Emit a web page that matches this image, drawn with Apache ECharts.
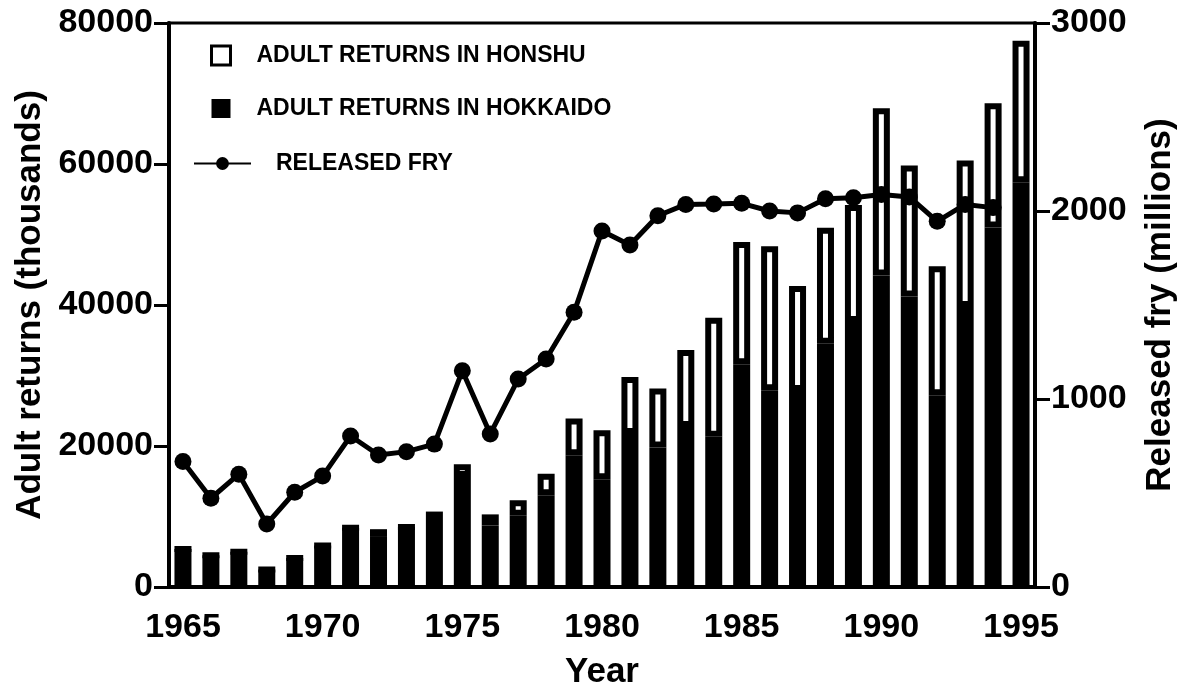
<!DOCTYPE html>
<html>
<head>
<meta charset="utf-8">
<script src="https://cdn.jsdelivr.net/npm/echarts@6/dist/echarts.min.js"></script>
<style>
  html, body { margin: 0; padding: 0; background: #fff; }
  #main { width: 1184px; height: 686px; }
</style>
</head>
<body>
<div id="main"></div>
<script>
// years on the x axis
const years = [];
for (let y = 1965; y <= 1995; y++) years.push(String(y));

// adult returns, thousands of fish
const hokkaido = [5400, 4500, 5000, 2500, 4100, 5900, 8400, 7100, 8500, 9500,
  15600, 8700, 10100, 13000, 18700, 15300, 21700, 19800, 22700, 21300,
  31600, 27900, 27800, 34500, 37600, 44200, 41200, 27200, 39700, 51000, 57400];
const honshu = [0, 0, 0, 0, 0, 0, 0, 1100, 0, 1200,
  1800, 1600, 2200, 3050, 5200, 6950, 8100, 8350, 10900, 16900,
  17350, 20450, 14900, 16450, 16600, 23700, 18600, 18300, 20800, 17600, 20100];

// released fry, millions (no point for 1995)
const fry = [667, 472, 600, 335, 504, 590, 803, 702, 720, 760,
  1150, 814, 1106, 1213, 1461, 1894, 1819, 1975, 2035, 2037,
  2041, 2000, 1990, 2065, 2070, 2088, 2075, 1945, 2035, 2018, null];

const leftTicks = [0, 20000, 40000, 60000, 80000];
const rightTicks = [0, 1000, 2000, 3000];

const FONT = 'Liberation Sans, Arial, sans-serif';
const black = '#000';

const chart = echarts.init(document.getElementById('main'));

const nameStyle = { fontSize: 35, fontWeight: 'bold', color: black, fontFamily: FONT };
const tickFont = { fontSize: 34, fontWeight: 'bold', color: black, fontFamily: FONT };
const legendText = { fontSize: 23, fontWeight: 'bold', color: black, fontFamily: FONT };

const option = {
  backgroundColor: '#fff',
  animation: false,
  textStyle: { fontFamily: FONT, color: black },
  grid: {
    left: 169, right: 149, top: 23, bottom: 99,
    outerBoundsMode: 'none',
    show: true, borderColor: black, borderWidth: 3
  },
  legend: [{
    orient: 'vertical',
    left: 205, top: 39,
    itemWidth: 19, itemHeight: 19, itemGap: 30,
    icon: 'rect',
    textStyle: Object.assign({ padding: [0, 0, 0, 21] }, legendText),
    data: [
      { name: 'ADULT RETURNS IN HONSHU', itemStyle: { color: '#fff', borderColor: black, borderWidth: 3 } },
      { name: 'ADULT RETURNS IN HOKKAIDO', itemStyle: { color: black, borderWidth: 0 } }
    ]
  }, {
    orient: 'vertical',
    left: 188, top: 147,
    itemWidth: 57, itemHeight: 16,
    textStyle: Object.assign({ padding: [0, 0, 0, 20] }, legendText),
    data: ['RELEASED FRY']
  }],
  xAxis: {
    type: 'category',
    data: years,
    boundaryGap: true,
    name: 'Year',
    nameLocation: 'middle',
    nameGap: 68,
    nameTextStyle: nameStyle,
    axisLine: { lineStyle: { color: black, width: 4 } },
    axisTick: { interval: 4, alignWithLabel: true, length: 13, lineStyle: { color: black, width: 3 } },
    axisLabel: Object.assign({ interval: 4, margin: 24 }, tickFont)
  },
  yAxis: [{
    type: 'value',
    min: leftTicks[0], max: leftTicks[leftTicks.length - 1], interval: 20000,
    name: 'Adult returns (thousands)',
    nameLocation: 'middle',
    nameRotate: 90,
    nameGap: 120,
    nameTextStyle: nameStyle,
    axisLine: { show: true, lineStyle: { color: black, width: 4 } },
    axisTick: { show: true, length: 15, lineStyle: { color: black, width: 3 } },
    axisLabel: Object.assign({ margin: 16, formatter: v => String(v) }, tickFont),
    splitLine: { show: false }
  }, {
    type: 'value',
    position: 'right',
    min: rightTicks[0], max: rightTicks[rightTicks.length - 1], interval: 1000,
    name: 'Released fry (millions)',
    nameLocation: 'middle',
    nameRotate: 90,
    nameGap: 108,
    nameTextStyle: nameStyle,
    axisLine: { show: true, lineStyle: { color: black, width: 4 } },
    axisTick: { show: true, length: 15, lineStyle: { color: black, width: 3 } },
    axisLabel: Object.assign({ margin: 16, formatter: v => String(v) }, tickFont),
    splitLine: { show: false }
  }],
  series: [{
    name: 'ADULT RETURNS IN HOKKAIDO',
    type: 'bar',
    stack: 'returns',
    barWidth: 17,
    itemStyle: { color: black, borderColor: black, borderWidth: 6 },
    data: hokkaido
  }, {
    name: 'ADULT RETURNS IN HONSHU',
    type: 'bar',
    stack: 'returns',
    barWidth: 17,
    itemStyle: { color: '#fff', borderColor: black, borderWidth: 6 },
    data: honshu
  }, {
    name: 'RELEASED FRY',
    type: 'line',
    yAxisIndex: 1,
    z: 5,
    symbol: 'circle',
    symbolSize: 17,
    lineStyle: { color: black, width: 5 },
    itemStyle: { color: black },
    data: fry
  }]
};

chart.setOption(option);
</script>
</body>
</html>
